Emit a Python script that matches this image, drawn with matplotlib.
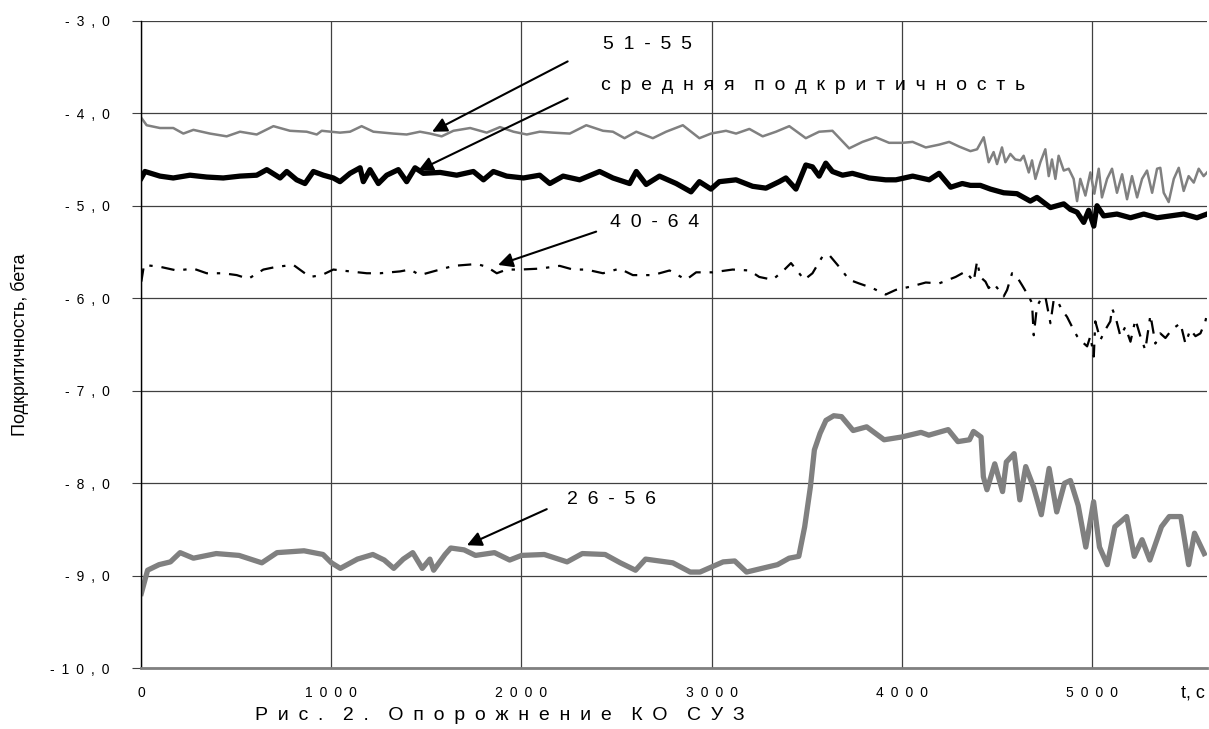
import numpy as np
import matplotlib
matplotlib.use('Agg')
import matplotlib.pyplot as plt

plt.rcParams['font.family'] = ['Liberation Sans', 'DejaVu Sans']

# 51-55 (серая тонкая)
t_5155 = [0, 28, 98, 168, 221, 274, 361, 449, 519, 607, 695, 782, 870, 923, 949, 1045, 1098, 1159, 1221,
          1326, 1396, 1466, 1519, 1580, 1642, 1730, 1817, 1887, 1958, 2028, 2096, 2166, 2254, 2341, 2429,
          2481, 2542, 2604, 2691, 2761, 2849, 2936, 2997, 3076, 3129, 3199, 3269, 3339, 3409, 3496, 3566,
          3636, 3724, 3794, 3864, 3934, 4004, 4058, 4127, 4197, 4250, 4302,
          4362, 4397, 4432, 4441, 4458, 4484, 4502, 4528, 4546, 4572, 4598, 4625, 4642, 4669, 4686, 4704,
          4730, 4756, 4774, 4791, 4809, 4826, 4853, 4879, 4905, 4923, 4940, 4967, 4993, 5014, 5037, 5054,
          5081, 5107, 5133, 5160, 5186, 5212, 5239, 5265, 5291, 5318, 5344, 5361, 5379, 5405, 5432, 5458,
          5484, 5510, 5537, 5563, 5589, 5607]
y_5155 = [-4.05, -4.13, -4.16, -4.16, -4.22, -4.18, -4.22, -4.25, -4.20, -4.23, -4.14, -4.19, -4.20, -4.23,
          -4.19, -4.21, -4.20, -4.14, -4.20, -4.22, -4.23, -4.20, -4.22, -4.25, -4.19, -4.16, -4.21, -4.15,
          -4.20, -4.23, -4.20, -4.21, -4.22, -4.13, -4.19, -4.20, -4.27, -4.20, -4.27, -4.20, -4.13, -4.27,
          -4.22, -4.19, -4.22, -4.17, -4.25, -4.20, -4.14, -4.27, -4.20, -4.19, -4.38, -4.31, -4.26, -4.32,
          -4.32, -4.31, -4.37, -4.34, -4.31, -4.36,
          -4.41, -4.39, -4.26, -4.35, -4.53, -4.42, -4.55, -4.37, -4.53, -4.44, -4.50, -4.51, -4.46, -4.64,
          -4.51, -4.71, -4.53, -4.39, -4.68, -4.50, -4.71, -4.46, -4.62, -4.60, -4.71, -4.95, -4.71, -4.89,
          -4.64, -4.87, -4.60, -4.91, -4.71, -4.60, -4.86, -4.66, -4.93, -4.68, -4.91, -4.71, -4.62, -4.86,
          -4.60, -4.59, -4.86, -4.96, -4.71, -4.59, -4.84, -4.68, -4.75, -4.60, -4.68, -4.64]

# средняя подкритичность (черная толстая)
t_mean = [0, 19, 98, 168, 256, 344, 431, 519, 607, 660, 730, 765, 817, 861, 905, 958, 1010, 1045, 1098, 1151,
          1168, 1203, 1247, 1291, 1352, 1396, 1440, 1484, 1572, 1659, 1747, 1800, 1852, 1922, 2010, 2096,
          2149, 2219, 2306, 2411, 2481, 2569, 2604, 2656, 2726, 2814, 2892, 2936, 2997, 3041, 3129, 3216,
          3286, 3356, 3391, 3444, 3496, 3531, 3566, 3601, 3636, 3689, 3741, 3829, 3916, 3970, 4058, 4145,
          4197, 4258, 4319, 4362, 4414, 4467, 4537, 4607, 4677, 4712, 4783, 4853, 4888, 4923, 4958, 4984,
          5011, 5028, 5063, 5133, 5204, 5274, 5344, 5414, 5484, 5554, 5607]
y_mean = [-4.70, -4.63, -4.68, -4.70, -4.67, -4.69, -4.70, -4.68, -4.67, -4.61, -4.70, -4.63, -4.72, -4.76,
          -4.63, -4.67, -4.70, -4.74, -4.65, -4.59, -4.74, -4.61, -4.76, -4.67, -4.61, -4.74, -4.59, -4.65,
          -4.64, -4.67, -4.63, -4.72, -4.63, -4.68, -4.70, -4.67, -4.76, -4.68, -4.72, -4.63, -4.70, -4.76,
          -4.63, -4.77, -4.68, -4.76, -4.85, -4.74, -4.82, -4.74, -4.72, -4.79, -4.81, -4.74, -4.70, -4.82,
          -4.56, -4.58, -4.68, -4.54, -4.63, -4.67, -4.65, -4.70, -4.72, -4.72, -4.68, -4.72, -4.65, -4.80,
          -4.76, -4.78, -4.78, -4.82, -4.86, -4.87, -4.95, -4.91, -5.02, -4.98, -5.04, -5.07, -5.18, -5.05,
          -5.22, -5.00, -5.11, -5.09, -5.13, -5.09, -5.13, -5.11, -5.09, -5.13, -5.09]

# 40-64 (штрихпунктир)
t_4064 = [0, 14, 98, 186, 274, 344, 431, 502, 563, 642, 712, 800, 887, 949, 1010, 1098, 1186, 1256, 1361, 1414,
          1466, 1536, 1642, 1765, 1817, 1870, 1922, 1993, 2096, 2201, 2271, 2341, 2429, 2516, 2586, 2691,
          2779, 2866, 2919, 3006, 3111, 3199, 3251, 3321, 3374, 3418, 3461, 3488, 3531, 3583, 3618, 3671,
          3724, 3776, 3846, 3916, 3969, 4056, 4127, 4197, 4284, 4337,
          4379, 4397, 4414, 4441, 4458, 4484, 4511, 4537, 4555, 4581, 4607, 4634, 4660, 4686, 4695, 4712,
          4730, 4756, 4783, 4800, 4818, 4844, 4870, 4897, 4923, 4949, 4976, 4993, 5011, 5019, 5046, 5072,
          5098, 5107, 5125, 5151, 5177, 5204, 5230, 5256, 5282, 5309, 5335, 5361, 5388, 5414, 5440, 5467,
          5493, 5519, 5546, 5572, 5598, 5610]
y_4064 = [-5.82, -5.64, -5.66, -5.70, -5.68, -5.73, -5.73, -5.75, -5.79, -5.69, -5.66, -5.64, -5.77, -5.75,
          -5.69, -5.71, -5.73, -5.73, -5.71, -5.69, -5.75, -5.71, -5.65, -5.63, -5.66, -5.73, -5.69, -5.69,
          -5.68, -5.65, -5.69, -5.69, -5.73, -5.68, -5.75, -5.75, -5.70, -5.80, -5.72, -5.72, -5.69, -5.70,
          -5.77, -5.80, -5.71, -5.62, -5.73, -5.80, -5.73, -5.55, -5.53, -5.66, -5.80, -5.84, -5.89, -5.96,
          -5.91, -5.87, -5.83, -5.84, -5.77, -5.71,
          -5.82, -5.60, -5.77, -5.82, -5.89, -5.84, -5.91, -5.98, -5.91, -5.73, -5.77, -5.86, -5.95, -6.05,
          -6.40, -6.09, -6.02, -5.98, -6.27, -6.02, -6.02, -6.13, -6.20, -6.31, -6.41, -6.47, -6.52, -6.41,
          -6.63, -6.25, -6.45, -6.34, -6.25, -6.11, -6.20, -6.41, -6.31, -6.47, -6.23, -6.41, -6.56, -6.18,
          -6.49, -6.38, -6.43, -6.36, -6.31, -6.27, -6.49, -6.34, -6.41, -6.38, -6.25, -6.14]

# 26-56 (серая толстая)
t_2656 = [0, 33, 93, 153, 204, 274, 394, 514, 634, 714, 856, 956, 1000, 1047, 1137, 1218, 1278, 1328, 1378,
          1428, 1478, 1518, 1538, 1598, 1628, 1698, 1758, 1858, 1938, 2000, 2120, 2240, 2320, 2440, 2520,
          2600, 2653, 2796, 2888, 2939, 3061, 3122, 3184, 3265, 3347, 3408, 3459, 3490, 3520, 3541, 3571,
          3602, 3643, 3684, 3745, 3816, 3908, 4000, 4102, 4143, 4245, 4296, 4357, 4378, 4418, 4430, 4449,
          4490, 4531, 4551, 4592, 4622, 4653, 4694, 4735, 4776, 4816, 4857, 4888, 4929, 4969, 5010, 5041,
          5082, 5122, 5184, 5224, 5265, 5306, 5367, 5408, 5469, 5510, 5541, 5592]
y_2656 = [-9.19, -8.94, -8.88, -8.85, -8.75, -8.81, -8.76, -8.78, -8.86, -8.75, -8.73, -8.77, -8.86, -8.92,
          -8.82, -8.77, -8.83, -8.92, -8.82, -8.75, -8.92, -8.82, -8.94, -8.77, -8.70, -8.72, -8.78, -8.75,
          -8.83, -8.78, -8.77, -8.85, -8.76, -8.77, -8.86, -8.94, -8.82, -8.86, -8.96, -8.96, -8.85, -8.84,
          -8.96, -8.92, -8.88, -8.81, -8.79, -8.47, -8.04, -7.64, -7.46, -7.32, -7.27, -7.28, -7.43, -7.39,
          -7.53, -7.50, -7.45, -7.48, -7.42, -7.55, -7.53, -7.44, -7.50, -7.93, -8.07, -7.79, -8.09, -7.77,
          -7.68, -8.18, -7.82, -8.04, -8.34, -7.84, -8.31, -8.00, -7.97, -8.24, -8.69, -8.20, -8.69, -8.88,
          -8.47, -8.36, -8.79, -8.61, -8.83, -8.47, -8.36, -8.36, -8.88, -8.54, -8.76]

yticks = [-10, -9, -8, -7, -6, -5, -4, -3]
ytick_labels = ['-10,0', '-9,0', '-8,0', '-7,0', '-6,0', '-5,0', '-4,0', '-3,0']
xticks = [0, 1000, 2000, 3000, 4000, 5000]
xtick_labels = ['0', '1000', '2000', '3000', '4000', '5000']

EN = '\u2002'
EM = '\u2003'


def spaced(s):
    # разрядка: буквы через пробел, слова через широкий пробел
    return EM.join(EN.join(w) for w in s.split(' '))


fig = plt.figure(figsize=(12.09, 7.29), dpi=100)
ax = fig.add_axes([0.1169, 0.0833, 0.8815, 0.8883])

ax.plot(t_5155, y_5155, color='#808080', lw=1.8)
ax.plot(t_mean, y_mean, color='black', lw=3.8)
ax.plot(t_4064, y_4064, color='black', lw=1.6, ls=(0, (6, 4, 1.5, 4)))
ax.plot(t_2656, y_2656, color='#808080', lw=3.8)

ax.set_xlim(0, 5607)
ax.set_ylim(-10, -3)
ax.set_yticks(yticks)
ax.set_yticklabels([spaced(s) for s in ytick_labels], fontsize=10)
ax.set_xticks(xticks)
ax.set_xticklabels([spaced(s) for s in xtick_labels], fontsize=10)
ax.tick_params(axis='y', length=6.5, width=0.8, color='#404040', pad=16.5)
ax.tick_params(axis='x', length=0, pad=13)
ax.grid(True, color='#404040', lw=0.9)
for s in ['top', 'right']:
    ax.spines[s].set_visible(False)
ax.spines['left'].set_color('black')
ax.spines['left'].set_linewidth(1.0)
ax.spines['bottom'].set_color('#808080')
ax.spines['bottom'].set_linewidth(2.0)

fig.text(20 / 1209, 1 - 345 / 729, 'Подкритичность, бета', fontsize=13, rotation=90, ha='center', va='center')

arrow = dict(arrowstyle='-|>', color='black', lw=1.5, mutation_scale=22, shrinkA=0, shrinkB=0)
ax.annotate('', xy=(1530, -4.20), xytext=(2243, -3.44), arrowprops=arrow)
ax.annotate('', xy=(1457, -4.62), xytext=(2243, -3.84), arrowprops=arrow)
ax.annotate('', xy=(1877, -5.64), xytext=(2393, -5.28), arrowprops=arrow)
ax.annotate('', xy=(1713, -8.67), xytext=(2133, -8.28), arrowprops=arrow)

ax.text(2430, -3.26, spaced('51-55'), fontsize=14, va='center', ha='left')
ax.text(2420, -3.70, spaced('средняя подкритичность'), fontsize=14, va='center', ha='left')
ax.text(2467, -5.18, spaced('40-64'), fontsize=14, va='center', ha='left')
ax.text(2240, -8.18, spaced('26-56'), fontsize=14, va='center', ha='left')

fig.text(1205 / 1209, 1 - 693 / 729, 't, c', fontsize=13, ha='right', va='center')
fig.text(500 / 1209, 1 - 716 / 729, spaced('Рис. 2. Опорожнение КО СУЗ'), fontsize=14, ha='center', va='center')

fig.savefig('out.png', dpi=100)
